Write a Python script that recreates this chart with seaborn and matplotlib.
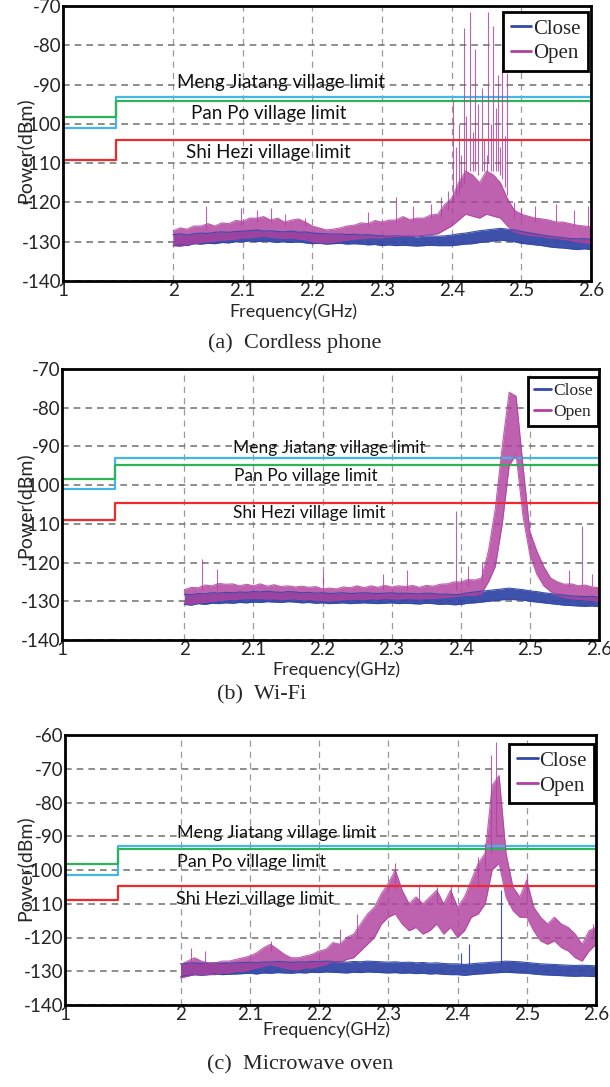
import numpy as np
import matplotlib
matplotlib.use('Agg')
import matplotlib.pyplot as plt
import seaborn as sns
from matplotlib.lines import Line2D

# frequency grid (GHz) of the read-off spectrum envelopes
FREQ = np.round(np.arange(2.0, 2.6001, 0.01), 2)
X_TICKS = [1, 2, 2.1, 2.2, 2.3, 2.4, 2.5, 2.6]
X_LABELS = ['1', '2', '2.1', '2.2', '2.3', '2.4', '2.5', '2.6']
LIMIT_NAMES = ['Meng Jiatang village limit', 'Pan Po village limit', 'Shi Hezi village limit']
CAPTIONS = ['(a)  Cordless phone', '(b)  Wi-Fi', '(c)  Microwave oven']

# ---- (a) cordless phone ----
a_step = 1.48
a_meng = [-101.0, -93.2]
a_panpo = [-98.3, -94.3]
a_shi = [-109.3, -104.2]
a_close_lo = [-131, -130.8, -131, -130.5, -130.6, -130.4, -130.5, -130.2, -130.3, -130,
              -130, -129.8, -130, -129.8, -130, -130.1, -130, -130.2, -130, -130.3,
              -130.5, -130.4, -130.6, -130.5, -130.4, -130.6, -130.5, -130.6, -130.8, -130.7,
              -131, -130.8, -131, -130.9, -131, -131.1, -131, -130.9, -131, -131,
              -131, -130.8, -130.6, -130.5, -130.2, -130, -129.8, -129.6, -129.8, -130,
              -130.4, -130.6, -130.8, -131, -131.3, -131.5, -131.6, -131.8, -132, -131.8, -132]
a_close_hi = [-128.2, -128, -128.3, -128, -127.8, -127.9, -127.6, -127.5, -127.6, -127.4,
              -127.3, -127.2, -127, -127.3, -127.2, -127.4, -127.5, -127.3, -127.6, -127.5,
              -127.8, -127.9, -128, -128.1, -128, -128.2, -128.1, -128.3, -128.2, -128.4,
              -128.5, -128.6, -128.5, -128.7, -128.6, -128.8, -128.6, -128.5, -128.6, -128.5,
              -128.3, -128, -127.8, -127.5, -127.2, -127, -126.8, -126.6, -126.8, -127,
              -127.4, -127.7, -128, -128.3, -128.6, -128.8, -129, -129.2, -129.3, -129.2, -129.4]
a_open_lo = [-131, -131.2, -130.8, -130.5, -130.2, -130, -129.8, -129.6, -129.5, -129.3,
             -129, -129, -128.8, -128.6, -128.8, -129, -129.2, -129, -129.3, -129.5,
             -130, -130.2, -130.3, -130.1, -129.8, -129.6, -129.3, -129.2, -129, -129,
             -129, -128.8, -128.6, -128.5, -128.6, -128.5, -128.4, -128.2, -128, -127,
             -126, -124.5, -123, -123.5, -124, -123, -123.5, -124, -126, -127.5,
             -128, -128.3, -128.5, -128.6, -129, -129, -129.4, -129.6, -130, -130.2, -130.5]
a_open_hi = [-127.2, -126.5, -126.8, -126, -126, -125.4, -126, -125.2, -125.4, -124.6,
             -124.8, -124, -124, -123.6, -124.5, -124, -125, -124.5, -124.2, -125,
             -126, -126.5, -127, -126.8, -126.5, -126, -125.8, -125.2, -125.4, -124.6,
             -125, -124.5, -124.5, -123.6, -124.4, -124, -124, -123.2, -123, -120.5,
             -119, -115, -112, -113, -115, -112, -113, -115, -119, -122,
             -123, -123.5, -124, -124.2, -124.5, -125, -125, -125.4, -125.8, -126, -126.2]
a_close_spk_f, a_close_spk_lo, a_close_spk_hi = [], [], []
a_open_spk_f = [2.047, 2.097, 2.12, 2.14, 2.16, 2.19, 2.28, 2.32, 2.345, 2.37, 2.385, 2.395,
                2.402, 2.406, 2.41, 2.414, 2.417, 2.421, 2.426, 2.431, 2.434, 2.438, 2.443,
                2.447, 2.45, 2.452, 2.457, 2.46, 2.463, 2.467, 2.469, 2.472, 2.476, 2.479,
                2.49, 2.5, 2.52, 2.55, 2.575, 2.595]
a_open_spk_lo = [-127, -126, -125, -125, -126, -126, -126, -125, -125, -124, -124, -122,
                 -120, -118, -118, -116, -115, -112, -112, -112, -112, -113, -112,
                 -112, -112, -110, -112, -112, -112, -112, -113, -114, -116, -118,
                 -124, -124, -125, -125, -126, -126]
a_open_spk_hi = [-121, -121.5, -122, -121.5, -123, -124, -122.5, -118.5, -121, -120.5, -118.5, -117,
                 -94, -106, -100, -108, -75.5, -98, -71.5, -102, -81, -95, -91,
                 -104, -108, -71.5, -100, -75, -96, -87.5, -106, -85, -103, -87,
                 -120, -121.5, -121, -120.5, -122, -121]

# ---- (b) Wi-Fi ----
b_step = 1.43
b_meng = [-101.0, -92.9]
b_panpo = [-98.4, -94.7]
b_shi = [-109.0, -104.6]
b_close_lo = [-130.8, -131, -130.6, -130.8, -130.5, -130.6, -130.4, -130.5, -130.3, -130.4,
              -130.2, -130.3, -130.1, -130.2, -130.3, -130.1, -130.2, -130.4, -130.3, -130.5,
              -130.4, -130.6, -130.5, -130.4, -130.6, -130.5, -130.4, -130.5, -130.6, -130.5,
              -130.4, -130.6, -130.5, -130.6, -130.7, -130.5, -130.6, -130.8, -130.7, -130.9,
              -130.8, -130.5, -130.4, -130.2, -130, -129.8, -129.6, -129.5, -129.6, -129.7,
              -130, -130.2, -130.4, -130.6, -130.8, -131, -131.1, -131.2, -131.3, -131.2, -131.4]
b_close_hi = [-128.2, -128.3, -128, -128.1, -127.8, -127.9, -127.7, -127.8, -127.6, -127.7,
              -127.5, -127.6, -127.4, -127.6, -127.7, -127.5, -127.6, -127.8, -127.7, -127.9,
              -127.8, -128, -127.9, -127.8, -128, -127.9, -127.8, -127.9, -128, -127.9,
              -127.8, -128, -127.9, -128, -128.1, -127.9, -128, -128.2, -128.1, -128.3,
              -128.2, -127.8, -127.6, -127.4, -127.2, -127, -126.8, -126.6, -126.8, -127,
              -127.3, -127.5, -127.8, -128, -128.2, -128.4, -128.6, -128.7, -128.8, -128.7, -129]
b_open_lo = [-130.5, -130.8, -130.4, -130.2, -130, -129.8, -129.6, -129.5, -129.4, -129.2,
             -129.3, -129.2, -129.4, -129.3, -129.5, -129.4, -129.3, -129.6, -129.5, -129.7,
             -129.8, -129.9, -129.7, -129.6, -129.5, -129.4, -129.5, -129.3, -129.4, -129.2,
             -129.3, -129.4, -129.2, -129.3, -129.4, -129.2, -129.3, -129.1, -129, -128.8,
             -128.6, -128.4, -128.5, -128, -125, -121, -110, -95, -92, -108,
             -118, -123, -126, -127.5, -128.5, -129, -129.3, -129.5, -129.6, -129.8, -130]
b_open_hi = [-127, -126.4, -126.5, -125.8, -126, -125.4, -125.6, -125.5, -126, -125.6,
             -126, -125.5, -126.1, -125.7, -126.2, -126, -126.3, -126.1, -126.4, -126.2,
             -126.8, -126.6, -126.8, -126.3, -126.5, -126, -126.5, -126, -126.4, -125.9,
             -126.3, -126, -126.2, -125.9, -126.4, -125.9, -126.1, -125.6, -125.5, -125,
             -125, -124.4, -124.5, -124, -117, -106, -90, -76, -77, -95,
             -112, -117, -121, -124, -125, -125.6, -125.5, -126, -125.8, -126.3, -126.5]
b_close_spk_f, b_close_spk_lo, b_close_spk_hi = [], [], []
b_open_spk_f = [2.025, 2.047, 2.2, 2.287, 2.322, 2.393, 2.41, 2.43, 2.556, 2.576, 2.59]
b_open_spk_lo = [-127, -127, -127, -127, -127, -127, -126, -125, -126, -126, -126]
b_open_spk_hi = [-119, -121.7, -122.5, -123, -121.8, -106.7, -121, -120, -122, -110.5, -123]

# ---- (c) microwave oven ----
c_step = 1.46
c_meng = [-101.5, -92.8]
c_panpo = [-98.1, -93.9]
c_shi = [-108.8, -104.7]
c_close_lo = [-131.5, -131.3, -131, -131.2, -131, -130.8, -131, -130.9, -130.8, -130.7,
              -130.6, -130.8, -130.5, -130.6, -130.4, -130.5, -130.6, -130.4, -130.5, -130.3,
              -130.4, -130.2, -130.3, -130.4, -130.5, -130.3, -130.4, -130.2, -130.3, -130.4,
              -130.5, -130.4, -130.6, -130.5, -130.7, -130.6, -130.8, -130.7, -130.9, -131,
              -131, -131.2, -131, -130.8, -130.7, -130.5, -130.4, -130.3, -130.4, -130.5,
              -130.6, -130.8, -131, -131.1, -131.2, -131.3, -131.4, -131.5, -131.4, -131.5, -131.6]
c_close_hi = [-127.8, -127.6, -127.5, -127.7, -127.6, -127.5, -127.7, -127.6, -127.5, -127.4,
              -127.3, -127.5, -127.2, -127.3, -127.1, -127.2, -127.4, -127.2, -127.3, -127.1,
              -127.2, -127, -127.1, -127.2, -127.3, -127.1, -127.2, -127, -127.1, -127.2,
              -127.3, -127.2, -127.4, -127.3, -127.5, -127.4, -127.6, -127.5, -127.7, -127.8,
              -127.8, -128, -127.8, -127.6, -127.5, -127.3, -127.2, -127, -127.1, -127.2,
              -127.4, -127.6, -127.8, -127.9, -128, -128.1, -128.2, -128.3, -128.2, -128.3, -128.4]
c_open_lo = [-132, -131.5, -131, -131, -131, -131, -130.5, -130.5, -130, -130,
             -129.5, -129, -128.5, -128, -128.5, -129, -129.5, -129.5, -129, -129,
             -128.5, -128, -127, -127.5, -126.5, -126, -124, -122, -120, -116,
             -114, -113, -116, -118, -117, -119, -118, -116, -119, -117,
             -120, -118, -114, -113, -110, -100, -98, -108, -112, -114,
             -114, -118, -121, -122, -121, -123, -124, -126, -127, -124, -122]
c_open_hi = [-128, -127, -126, -127, -127.5, -127.5, -127, -127, -126.5, -126,
             -125.5, -124.5, -123, -122, -123.5, -125, -126, -126, -125.5, -125,
             -124, -123.5, -121.5, -122, -120, -119, -116, -113, -111, -107,
             -104, -100, -106, -110, -108, -110, -108, -106, -110, -106,
             -111, -108, -103, -98, -95, -75, -72, -95, -105, -108,
             -103, -111, -114, -116, -114, -116, -117, -119, -122, -118, -117]
c_close_spk_f = [2.405, 2.417, 2.463]
c_close_spk_lo = [-128, -128, -128]
c_close_spk_hi = [-124.5, -122, -106]
c_open_spk_f = [2.015, 2.035, 2.13, 2.23, 2.255, 2.31, 2.345, 2.37, 2.39, 2.43, 2.44,
                2.448, 2.455, 2.5, 2.596]
c_open_spk_lo = [-129, -129, -124, -122, -120, -106, -110, -110, -110, -105, -100,
                 -95, -90, -108, -120]
c_open_spk_hi = [-123, -124, -121, -117.5, -113, -98, -104, -105, -104.8, -96, -92,
                 -66, -62, -101, -116]

CLOSE_COLOR = '#3349a8'
OPEN_COLOR = '#b0409f'
LIMIT_COLORS = ['#46b6e6', '#2fb35a', '#ee2a2a']

sns.set_style('white')
plt.rcParams['font.family'] = ['Lato', 'DejaVu Sans']
plt.rcParams['axes.unicode_minus'] = False

W, H = 610, 1087
fig = plt.figure(figsize=(W / 100, H / 100), dpi=100)


def px_rect(left, right, top, bottom):
    return [left / W, 1 - bottom / H, (right - left) / W, (bottom - top) / H]


def draw_series(ax, lo, hi, sf, slo, shi, color, alpha):
    # noisy band between the lower and upper envelope, plus the narrow spikes
    ax.fill_between(FREQ, lo, hi, color=color, alpha=alpha, lw=0)
    for edge in (lo, hi):
        sns.lineplot(x=FREQ, y=edge, ax=ax, color=color, lw=0.8, alpha=alpha,
                     estimator=None, legend=False)
    if len(sf):
        ax.vlines(sf, slo, shi, color=color, lw=0.8, alpha=alpha)


panels = [
    dict(rect=px_rect(63, 591, 6, 281), left=1.842, ylim=(-140, -70), step=a_step,
         limits=[a_meng, a_panpo, a_shi],
         close=(a_close_lo, a_close_hi, a_close_spk_f, a_close_spk_lo, a_close_spk_hi),
         open=(a_open_lo, a_open_hi, a_open_spk_f, a_open_spk_lo, a_open_spk_hi),
         text_xy=[(2.155, -89.6), (2.137, -97.3), (2.137, -107.2)], text_size=13.5,
         leg=(0.995, 0.979), leg_size=15, xlabel=(293, 312), ylabel=(24, 150), caption=(295, 343)),
    dict(rect=px_rect(62, 599, 369, 640), left=1.823, ylim=(-140, -70), step=b_step,
         limits=[b_meng, b_panpo, b_shi],
         close=(b_close_lo, b_close_hi, b_close_spk_f, b_close_spk_lo, b_close_spk_hi),
         open=(b_open_lo, b_open_hi, b_open_spk_f, b_open_spk_lo, b_open_spk_hi),
         text_xy=[(2.21, -90.5), (2.176, -97.7), (2.18, -107.2)], text_size=12.5,
         leg=(0.999, 0.97), leg_size=12.5, xlabel=(336, 670), ylabel=(24, 505), caption=(262, 695)),
    dict(rect=px_rect(65, 596, 735, 1005), left=1.833, ylim=(-140, -60), step=c_step,
         limits=[c_meng, c_panpo, c_shi],
         close=(c_close_lo, c_close_hi, c_close_spk_f, c_close_spk_lo, c_close_spk_hi),
         open=(c_open_lo, c_open_hi, c_open_spk_f, c_open_spk_lo, c_open_spk_hi),
         text_xy=[(2.139, -89), (2.103, -97.7), (2.107, -108.5)], text_size=13,
         leg=(0.997, 0.967), leg_size=15, xlabel=(326, 1030), ylabel=(24, 868), caption=(300, 1065)),
]

for i, p in enumerate(panels):
    ax = fig.add_axes(p['rect'])
    k = 2 - p['left']
    fwd = (lambda k: lambda f: np.where(f >= 2, f, 2 - (2 - f) * k))(k)
    inv = (lambda k: lambda x: np.where(x >= 2, x, 2 - (2 - x) / k))(k)
    ax.set_xscale('function', functions=(fwd, inv))
    ax.set_xlim(1, 2.6)
    ax.set_ylim(*p['ylim'])

    # limit lines, stepping up at the band edge
    for lim, col in zip(p['limits'], LIMIT_COLORS):
        sns.lineplot(x=[1, p['step'], 2.6], y=[lim[0], lim[1], lim[1]], ax=ax, color=col,
                     lw=1.6, drawstyle='steps-post', estimator=None, sort=False, legend=False)

    draw_series(ax, *p['close'], CLOSE_COLOR, 0.95)
    draw_series(ax, *p['open'], OPEN_COLOR, 0.82)

    for name, (tx, ty) in zip(LIMIT_NAMES, p['text_xy']):
        ax.text(tx, ty, name, ha='center', va='center', fontsize=p['text_size'], color='#111111')

    yt = np.arange(p['ylim'][0], p['ylim'][1] + 1, 10)
    ax.set_yticks(yt)
    ax.set_yticklabels([str(v) for v in yt], fontsize=13.5)
    ax.set_xticks(X_TICKS)
    ax.set_xticklabels(X_LABELS, fontsize=13.5)
    ax.tick_params(length=0, pad=1)
    ax.yaxis.grid(True, color='#7a7a7a', lw=1.2, ls=(0, (4, 3)))
    ax.xaxis.grid(True, color='#9a9a9a', lw=0.9, ls=(0, (5, 4)))
    ax.set_axisbelow(True)
    for s in ax.spines.values():
        s.set_visible(True)
        s.set_color('black')
        s.set_linewidth(2)

    handles = [Line2D([], [], color=CLOSE_COLOR, lw=2), Line2D([], [], color=OPEN_COLOR, lw=2)]
    leg = ax.legend(handles, ['Close', 'Open'], loc='upper right', bbox_to_anchor=p['leg'],
                    borderaxespad=0, frameon=True, fancybox=False, framealpha=1,
                    edgecolor='black', handlelength=1.0, handletextpad=0.1,
                    borderpad=0.35, labelspacing=0.25,
                    prop={'family': 'Liberation Serif', 'size': p['leg_size']})
    leg.get_frame().set_linewidth(2)

    fig.text(p['xlabel'][0] / W, 1 - p['xlabel'][1] / H, 'Frequency(GHz)',
             ha='center', va='center', fontsize=13)
    fig.text(p['ylabel'][0] / W, 1 - p['ylabel'][1] / H, 'Power(dBm)', rotation=90,
             ha='center', va='center', fontsize=14)
    fig.text(p['caption'][0] / W, 1 - p['caption'][1] / H, CAPTIONS[i],
             ha='center', va='center', fontsize=16, family='Liberation Serif')

fig.savefig('out.png', dpi=100)
